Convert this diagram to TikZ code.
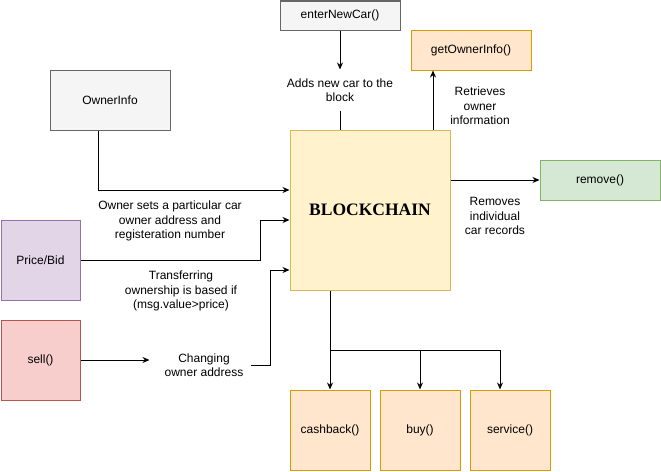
\documentclass[tikz,border=0pt]{standalone}
\usepackage{fontspec}
\setmainfont{Liberation Sans}
\newfontfamily\blockfont{Liberation Serif}
\usetikzlibrary{arrows.meta}
\definecolor{greyfill}{HTML}{F5F5F5}
\definecolor{greyline}{HTML}{666666}
\definecolor{yellowfill}{HTML}{FFF2CC}
\definecolor{yellowline}{HTML}{D6B656}
\definecolor{orangefill}{HTML}{FFE6CC}
\definecolor{orangeline}{HTML}{D79B00}
\definecolor{purplefill}{HTML}{E1D5E7}
\definecolor{purpleline}{HTML}{9673A6}
\definecolor{redfill}{HTML}{F8CECC}
\definecolor{redline}{HTML}{B85450}
\definecolor{greenfill}{HTML}{D5E8D4}
\definecolor{greenline}{HTML}{82B366}

\begin{document}
\begin{tikzpicture}[x=1pt, y=-1pt, >={Stealth[length=7pt,width=6pt]},
	line width=1pt, font=\fontsize{12}{14.5}\selectfont,
	fnbox/.style={draw, inner sep=0pt, align=center},
	greybox/.style={fnbox, fill=greyfill, draw=greyline},
	chainbox/.style={fnbox, fill=yellowfill, draw=yellowline},
	orangebox/.style={fnbox, fill=orangefill, draw=orangeline},
	purplebox/.style={fnbox, fill=purplefill, draw=purpleline},
	redbox/.style={fnbox, fill=redfill, draw=redline},
	greenbox/.style={fnbox, fill=greenfill, draw=greenline},
	lbl/.style={inner sep=0pt, align=center}]

\useasboundingbox (0,0) rectangle (661,471);

%========================
% Boxes
%========================
\node[greybox, minimum width=120pt, minimum height=29pt] (newcar) at (340,15.5) {enterNewCar()};
\node[greybox, minimum width=120pt, minimum height=60pt] (owner) at (110,100) {OwnerInfo};
\node[chainbox, minimum width=160pt, minimum height=160pt] (chain) at (370,210)
	{\blockfont\bfseries\fontsize{17.5}{20}\selectfont BLOCKCHAIN};
\node[orangebox, minimum width=120pt, minimum height=40pt] (getinfo) at (471,50) {getOwnerInfo()};
\node[greenbox, minimum width=120pt, minimum height=40pt] (remove) at (600,180) {remove()};
\node[purplebox, minimum width=79pt, minimum height=80pt] (price) at (40.5,260) {Price/Bid};
\node[redbox, minimum width=79pt, minimum height=80pt] (sell) at (40.5,360) {sell()};

% function boxes below the chain
\node[orangebox, minimum width=80pt, minimum height=80pt] (cash) at (330,430) {cashback()};
\node[orangebox, minimum width=80pt, minimum height=80pt] (buy) at (420,430) {buy()};
\node[orangebox, minimum width=80pt, minimum height=80pt] (srv) at (510,430) {service()};

%========================
% Labels
%========================
\node[lbl, minimum height=40pt] (addlbl) at (340,90) {Adds new car to the\\block};
\node[lbl] (ownlbl) at (170,221) {Owner sets a particular car\\owner address and\\registeration number};
\node[lbl] (trlbl) at (181,291) {Transferring\\ownership is based if\\(msg.value>price)};
\node[lbl, minimum width=100pt] (chglbl) at (200,365) {\hspace*{8pt}Changing\\\hspace*{8pt}owner address};
\node[lbl] (retlbl) at (480,106) {Retrieves\\owner\\information};
\node[lbl] (remlbl) at (495,216) {Removes\\individual\\car records};

%========================
% Connectors
%========================
\draw[->] (newcar) -- (addlbl);
\draw (addlbl.south) -- (addlbl.south |- chain.north);
\draw[->] ([xshift=-12pt]owner.south) |- ([yshift=20pt]chain.west);
\draw[->] (price.east) -- ++(180,0) |- ([yshift=-10pt]chain.west);
\draw[->] (sell.east) -- (sell.east -| chglbl.west);
\draw[->] (chglbl.east) -- ++(20,0) |- ([yshift=-60pt]chain.west);
\draw[->] ([xshift=63pt]chain.north) -- ([xshift=-38pt]getinfo.south);
\draw[->] ([yshift=30pt]chain.east) -- (remove.west);

% split towards the functions
\coordinate (split) at (330,350);
\draw[->] ([xshift=-40pt]chain.south) -- (cash.north);
\draw[->] (split) -| (buy.north);
\draw[->] (split) -| ([xshift=-10pt]srv.north);

\end{tikzpicture}
\end{document}
